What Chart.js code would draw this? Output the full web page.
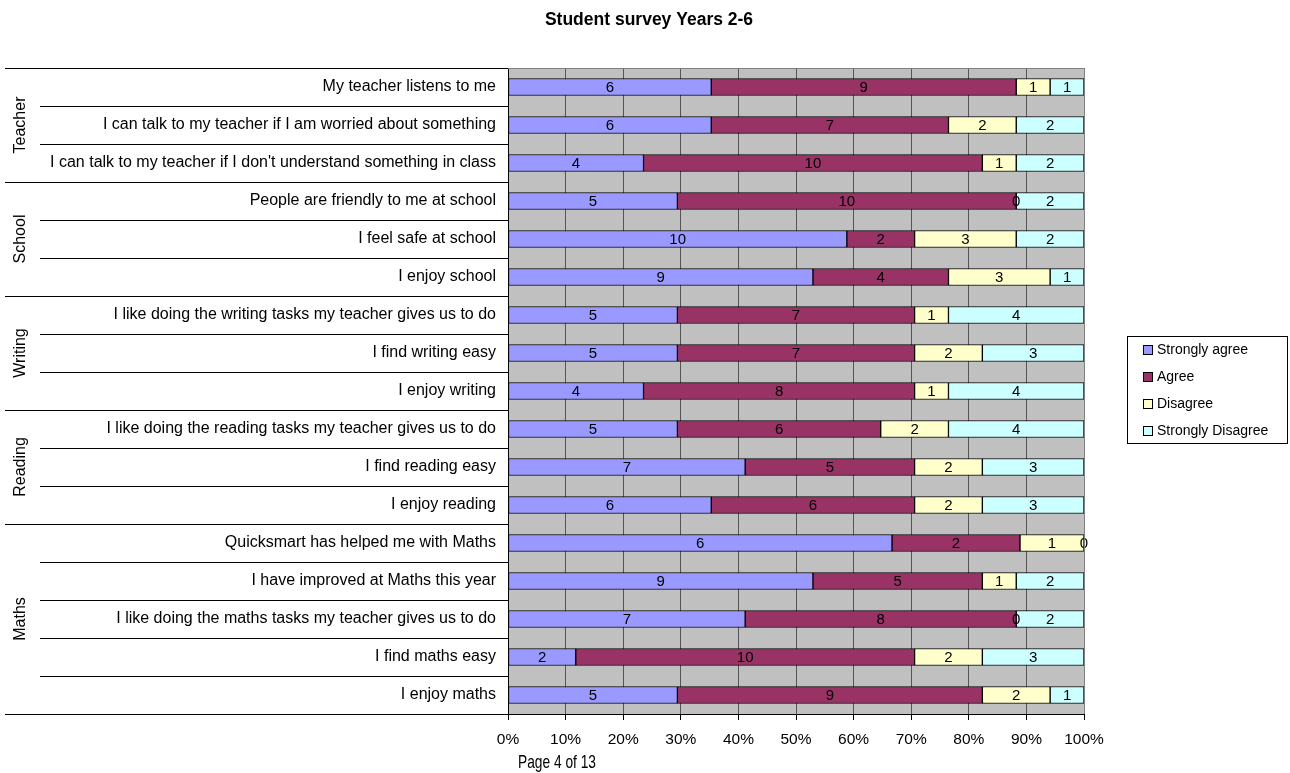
<!DOCTYPE html>
<html>
<head>
<meta charset="utf-8">
<script src="https://cdn.jsdelivr.net/npm/chart.js@4"></script>
<style>
  html, body { margin: 0; padding: 0; background: #fff; }
  canvas { display: block; }
</style>
</head>
<body>
<canvas id="survey" width="1290" height="773"></canvas>
<script>
// survey questions, top to bottom
const questions = [
    "My teacher listens to me",
    "I can talk to my teacher if I am worried about something",
    "I can talk to my teacher if I don't understand something in class",
    "People are friendly to me at school",
    "I feel safe at school",
    "I enjoy school",
    "I like doing the writing tasks my teacher gives us to do",
    "I find writing easy",
    "I enjoy writing",
    "I like doing the reading tasks my teacher gives us to do",
    "I find reading easy",
    "I enjoy reading",
    "Quicksmart has helped me with Maths",
    "I have improved at Maths this year",
    "I like doing the maths tasks my teacher gives us to do",
    "I find maths easy",
    "I enjoy maths"
];
const groups = ["Teacher", "School", "Writing", "Reading", "Maths"];
const groupSizes = [3, 3, 3, 3, 5];

const responses = ["Strongly agree", "Agree", "Disagree", "Strongly Disagree"];
const stronglyAgree    = [6, 6, 4, 5, 10, 9, 5, 5, 4, 5, 7, 6, 6, 9, 7, 2, 5];
const agree            = [9, 7, 10, 10, 2, 4, 7, 7, 8, 6, 5, 6, 2, 5, 8, 10, 9];
const disagree         = [1, 2, 1, 0, 3, 3, 1, 2, 1, 2, 2, 2, 1, 1, 0, 2, 2];
const stronglyDisagree = [1, 2, 2, 2, 2, 1, 4, 3, 4, 4, 3, 3, 0, 2, 2, 3, 1];
const pctTicks = [0, 10, 20, 30, 40, 50, 60, 70, 80, 90, 100];

const colors = ['#9999FF', '#993366', '#FFFFCC', '#CCFFFF'];
const FONT = 'Arial, "Liberation Sans", sans-serif';

const counts = [stronglyAgree, agree, disagree, stronglyDisagree];
const totals = questions.map((q, i) => counts.reduce((s, arr) => s + arr[i], 0));

const datasets = counts.map((arr, k) => ({
    label: responses[k],
    raw: arr,
    data: arr.map((v, i) => v / totals[i] * 100),
    backgroundColor: colors[k],
    borderColor: '#000',
    borderWidth: 1,
    borderSkipped: false,
    barThickness: 17
}));

const surveyPlugin = {
    id: 'surveyExtras',
    beforeDraw(chart) {
        const { ctx, chartArea: a } = chart;
        ctx.save();
        ctx.fillStyle = '#C0C0C0';
        ctx.fillRect(a.left, a.top, a.right - a.left, a.bottom - a.top);
        ctx.restore();
    },
    afterDatasetsDraw(chart) {
        const { ctx, chartArea: a } = chart;
        ctx.save();
        // value labels
        ctx.font = '15px ' + FONT;
        ctx.fillStyle = '#000';
        ctx.textAlign = 'center';
        ctx.textBaseline = 'middle';
        chart.data.datasets.forEach((ds, k) => {
            chart.getDatasetMeta(k).data.forEach((bar, i) => {
                const p = bar.getProps(['x', 'base', 'y'], true);
                ctx.fillText(String(ds.raw[i]), (p.x + p.base) / 2, p.y + 1);
            });
        });

        // plot border (top and right)
        ctx.strokeStyle = '#808080';
        ctx.lineWidth = 1;
        ctx.beginPath();
        ctx.moveTo(a.left, a.top + 0.5);
        ctx.lineTo(a.right + 0.5, a.top + 0.5);
        ctx.lineTo(a.right + 0.5, a.bottom);
        ctx.stroke();

        // row separators and group labels on the left
        const rowH = (a.bottom - a.top) / questions.length;
        const groupStarts = [];
        let idx = 0;
        groupSizes.forEach(n => { groupStarts.push(idx); idx += n; });
        ctx.strokeStyle = '#000';
        for (let r = 0; r <= questions.length; r++) {
            const y = Math.round(a.top + r * rowH) + 0.5;
            const isGroup = r === questions.length || groupStarts.includes(r);
            ctx.beginPath();
            ctx.moveTo(isGroup ? 5 : 40, y);
            ctx.lineTo(a.left, y);
            ctx.stroke();
        }
        ctx.font = '16px ' + FONT;
        groups.forEach((g, gi) => {
            const yc = a.top + (groupStarts[gi] + groupSizes[gi] / 2) * rowH;
            ctx.save();
            ctx.translate(21, yc);
            ctx.rotate(-Math.PI / 2);
            ctx.textAlign = 'center';
            ctx.textBaseline = 'middle';
            ctx.fillText(g, 0, 0);
            ctx.restore();
        });

        // legend
        const lx = 1127, ly = 336, lw = 160, lh = 107;
        ctx.strokeStyle = '#000';
        ctx.strokeRect(lx + 0.5, ly + 0.5, lw, lh);
        ctx.font = '14px ' + FONT;
        ctx.textAlign = 'left';
        chart.data.datasets.forEach((ds, k) => {
            const y = 350 + k * 27;
            ctx.fillStyle = ds.backgroundColor;
            ctx.fillRect(1143, y - 5, 10, 10);
            ctx.strokeRect(1143.5, y - 4.5, 9, 9);
            ctx.fillStyle = '#000';
            ctx.fillText(ds.label, 1157, y);
        });

        // title
        ctx.font = 'bold 17.5px ' + FONT;
        ctx.textAlign = 'center';
        ctx.fillText('Student survey Years 2-6', 649, 20);

        // footer, narrow lettering
        ctx.font = '19px ' + FONT;
        ctx.textAlign = 'left';
        const txt = 'Page 4 of 13';
        const w = ctx.measureText(txt).width;
        ctx.translate(518, 763);
        ctx.scale(78 / w, 1);
        ctx.fillText(txt, 0, 0);
        ctx.restore();
    }
};

new Chart(document.getElementById('survey'), {
    type: 'bar',
    data: { labels: questions, datasets },
    plugins: [surveyPlugin],
    options: {
        indexAxis: 'y',
        responsive: false,
        animation: false,
        devicePixelRatio: 1,
        layout: { padding: { left: 0, right: 206, top: 68, bottom: 0 } },
        plugins: {
            legend: { display: false },
            tooltip: { enabled: false },
            title: { display: false }
        },
        scales: {
            x: {
                stacked: true,
                min: 0,
                max: 100,
                afterBuildTicks: scale => { scale.ticks = pctTicks.map(v => ({ value: v })); },
                afterFit: scale => { scale.height = 59; },
                ticks: {
                    callback: v => v + '%',
                    color: '#000',
                    font: { family: FONT, size: 15.5 },
                    padding: 10,
                    maxRotation: 0
                },
                grid: { color: '#555', tickLength: 6, tickColor: '#000' },
                border: { color: '#000' }
            },
            y: {
                stacked: true,
                afterFit: scale => { scale.width = 508; },
                ticks: {
                    color: '#000',
                    font: { family: FONT, size: 16 },
                    padding: 6,
                    autoSkip: false
                },
                grid: { display: false, tickLength: 6 },
                border: { color: '#000' }
            }
        }
    }
});
</script>
</body>
</html>
